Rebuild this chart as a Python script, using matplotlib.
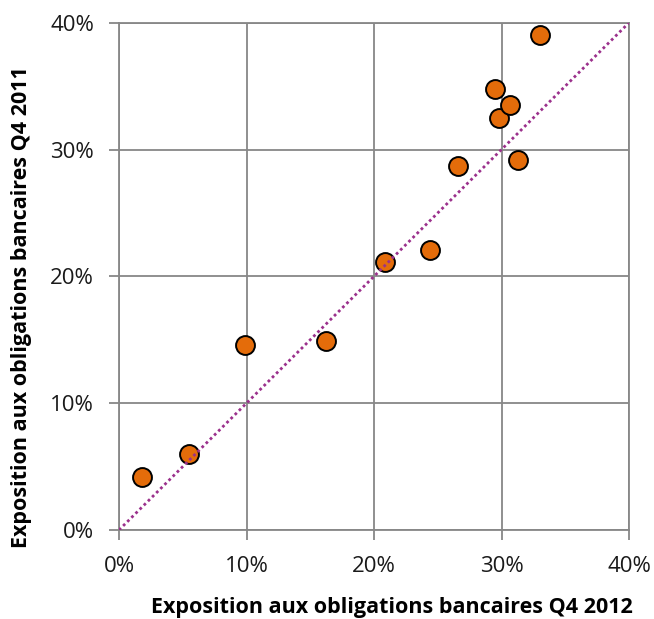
import matplotlib
matplotlib.use("Agg")
import matplotlib.pyplot as plt
from matplotlib.ticker import PercentFormatter, MultipleLocator

# Exposure to bank bonds, Q4 2012 vs Q4 2011 (in %)
expo_2012 = [1.8, 5.5, 9.9, 16.2, 20.9, 24.4, 26.6, 29.5, 29.8, 30.7, 31.3, 33.0]
expo_2011 = [4.2, 6.0, 14.6, 14.9, 21.1, 22.1, 28.7, 34.8, 32.5, 33.5, 29.2, 39.0]
diag = [0, 40]

xlabel = "Exposition aux obligations bancaires Q4 2012"
ylabel = "Exposition aux obligations bancaires Q4 2011"

plt.rcParams['font.family'] = ['Open Sans', 'DejaVu Sans']

fig = plt.figure(figsize=(6.54, 6.19), dpi=100)
ax = fig.add_axes([119 / 654, 1 - 530 / 619, 510 / 654, 507.3 / 619])

grid_col = '#878787'

# points first, diagonal drawn over them
ax.scatter(expo_2012, expo_2011, s=185, color='#E46C0A', edgecolor='black',
           linewidth=1.4, zorder=3)
ax.plot(diag, diag, color='#9B318C', lw=2.0, linestyle=(0, (1, 1.1)),
        dash_capstyle='butt', zorder=4)

ax.set_xlim(0, 40)
ax.set_ylim(0, 40)
ax.xaxis.set_major_locator(MultipleLocator(10))
ax.yaxis.set_major_locator(MultipleLocator(10))
ax.xaxis.set_major_formatter(PercentFormatter(decimals=0))
ax.yaxis.set_major_formatter(PercentFormatter(decimals=0))

ax.grid(True, color=grid_col, lw=1.3, zorder=0)
ax.set_axisbelow(True)
for sp in ax.spines.values():
    sp.set_color(grid_col)
    sp.set_linewidth(1.3)

ax.tick_params(axis='both', direction='out', length=7, width=1.3, color=grid_col,
               labelsize=16, labelcolor='#1a1a1a')
ax.tick_params(axis='x', pad=12)
ax.tick_params(axis='y', pad=11)

fig.text(392 / 654, 1 - 613 / 619, xlabel, ha='center', va='baseline',
         fontsize=15.5, fontweight='bold', color='black')
fig.text(22 / 654, 1 - 307 / 619, ylabel, ha='center', va='center',
         rotation=90, fontsize=15.5, fontweight='bold', color='black')

fig.savefig('out.png', dpi=100)
